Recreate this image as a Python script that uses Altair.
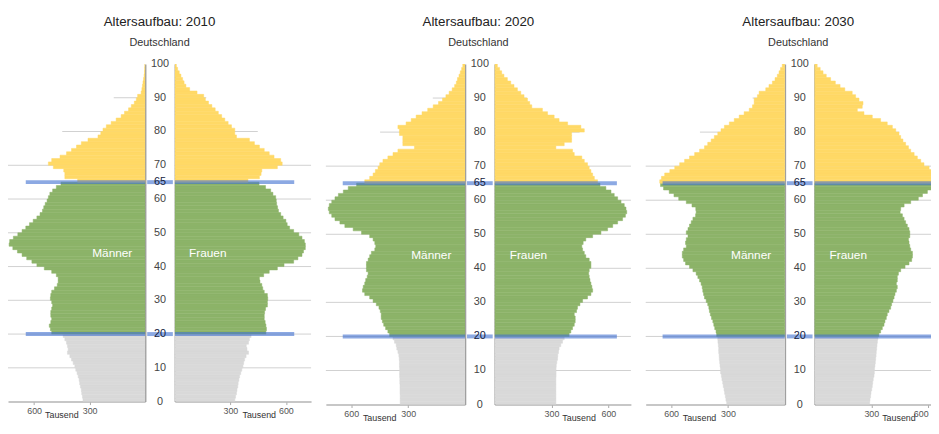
import altair as alt
import pandas as pd

FONT = "Liberation Sans"

ages = list(range(100))

m2010 = [336, 339, 343, 345, 350, 354, 357, 362, 368, 375,
         380, 389, 398, 407, 420, 416, 420, 425, 434, 443,
         505, 512, 518, 510, 505, 510, 510, 505, 500, 505,
         512, 510, 505, 490, 475, 470, 470, 480, 505, 545,
         585, 612, 640, 665, 690, 715, 735, 732, 712, 688,
         665, 645, 625, 605, 585, 568, 555, 548, 540, 530,
         523, 515, 500, 480, 455, 365, 434, 434, 440, 496,
         523, 505, 460, 425, 398, 371, 345, 309, 255, 240,
         228, 210, 184, 157, 130, 112, 90, 75, 59, 48,
         41, 22, 18, 15, 12, 9, 6, 4, 3, 2]
f2010 = [324, 328, 333, 336, 340, 342, 346, 350, 356, 362,
         368, 372, 377, 385, 398, 390, 386, 398, 403, 412,
         492, 495, 492, 488, 483, 483, 485, 490, 500, 500,
         502, 500, 483, 475, 470, 460, 457, 480, 510, 554,
         590, 642, 665, 687, 695, 705, 705, 700, 687, 670,
         642, 620, 607, 600, 585, 572, 560, 555, 550, 548,
         545, 530, 518, 490, 455, 395, 457, 466, 470, 554,
         580, 572, 536, 510, 483, 457, 430, 403, 333, 324,
         324, 306, 288, 270, 253, 235, 218, 200, 182, 165,
         156, 120, 80, 60, 50, 42, 33, 24, 15, 8]
m2020 = [342, 342, 342, 343, 343, 343, 344, 344, 345, 345,
         345, 346, 346, 347, 349, 354, 360, 363, 372, 380,
         398, 407, 419, 429, 436, 442, 442, 447, 454, 468,
         485, 503, 529, 541, 537, 529, 524, 516, 511, 520,
         520, 520, 511, 503, 494, 476, 471, 476, 485, 503,
         546, 590, 634, 660, 686, 703, 716, 721, 716, 703,
         686, 668, 642, 616, 572, 529, 503, 485, 473, 459,
         450, 433, 407, 380, 354, 267, 328, 328, 328, 346,
         346, 354, 311, 284, 258, 227, 197, 168, 140, 119,
         101, 84, 68, 55, 46, 40, 32, 25, 18, 12]
f2020 = [323, 323, 323, 323, 323, 323, 323, 323, 324, 324,
         324, 325, 328, 332, 333, 337, 340, 349, 358, 367,
         393, 402, 411, 420, 425, 425, 420, 432, 437, 450,
         464, 490, 508, 517, 513, 508, 503, 499, 496, 499,
         508, 508, 499, 481, 473, 464, 460, 467, 481, 517,
         561, 596, 623, 649, 675, 690, 697, 693, 684, 667,
         649, 631, 614, 587, 556, 543, 526, 517, 508, 499,
         490, 473, 460, 420, 411, 323, 367, 406, 406, 406,
         473, 455, 385, 340, 314, 279, 252, 196, 185, 173,
         155, 138, 120, 102, 85, 67, 49, 37, 26, 14]
m2030 = [307, 311, 314, 318, 321, 325, 328, 332, 335, 339,
         340, 342, 344, 346, 347, 349, 349, 351, 353, 354,
         360, 363, 370, 375, 380, 387, 393, 398, 401, 407,
         415, 424, 429, 433, 436, 442, 450, 459, 468, 485,
         503, 524, 534, 541, 541, 534, 520, 524, 520, 511,
         520, 511, 503, 494, 485, 471, 468, 470, 490, 520,
         560, 585, 610, 640, 656, 660, 651, 634, 607, 581,
         555, 529, 503, 476, 450, 424, 407, 389, 372, 354,
         337, 319, 293, 267, 241, 215, 188, 171, 162, 162,
         145, 136, 101, 84, 66, 52, 40, 31, 23, 14]
f2030 = [291, 293, 296, 298, 302, 305, 307, 310, 314, 316,
         317, 319, 321, 323, 325, 326, 328, 330, 332, 335,
         340, 349, 358, 367, 372, 379, 384, 393, 402, 407,
         414, 420, 425, 432, 437, 432, 437, 437, 443, 455,
         478, 499, 513, 517, 517, 508, 503, 499, 496, 503,
         503, 499, 490, 481, 473, 464, 452, 455, 473, 508,
         548, 570, 596, 623, 649, 676, 667, 644, 623, 605,
         578, 561, 543, 526, 508, 496, 481, 467, 455, 446,
         429, 411, 384, 349, 305, 261, 226, 252, 256, 235,
         217, 199, 160, 135, 110, 85, 62, 45, 30, 14]

years = ["2010", "2020", "2030"]
men = {"2010": m2010, "2020": m2020, "2030": m2030}
women = {"2010": f2010, "2020": f2020, "2030": f2030}

grid_ages = [10, 20, 30, 40, 50, 60, 70, 80, 90]
grid_lens = [800, 800, 800, 800, 800, 800, 800, 448, 170]
marker_ages = [20, 65]
marker_len = 645
axis_ages = [0, 10, 20, 30, 40, 50, 60, 65, 70, 80, 90, 100]
x_ticks = [300, 600]
sex_labels = {"m": "Männer", "f": "Frauen"}
label_age = 44
label_pos = 178

GRAY = "#d9d9d9"
GREEN = "#8cb369"
YELLOW = "#ffd966"
BLUE = "#3f6fd0"


def grp(a):
    if a < 20:
        return "jung"
    if a < 65:
        return "mittel"
    return "alt"


grid_df = pd.DataFrame({"age": grid_ages, "x0": 0, "len": grid_lens})
marker_df = pd.DataFrame({"age": marker_ages, "x0": 0, "len": marker_len})
top_df = pd.DataFrame({"age": [100], "x0": [0], "t": ["100"]})
grp_scale = alt.Scale(domain=["jung", "mittel", "alt"], range=[GRAY, GREEN, YELLOW])


def half(values, side, width, height, xmax, flush_last=False):
    df = pd.DataFrame({"age": ages, "v": values, "grp": [grp(a) for a in ages]})
    left = side == "m"
    xs = alt.Scale(domain=[0, xmax], reverse=left, nice=False, zero=False)
    ys = alt.Scale(domain=[0, 100], nice=False, zero=False)
    label_align = "center"
    if flush_last:
        label_align = {"condition": {"test": "datum.value >= 600", "value": "right"},
                       "value": "center"}
    xaxis = alt.Axis(values=x_ticks, title="Tausend", titleX=54 if left else 85, titleY=13,
                     titleBaseline="middle", titleAlign="center", titleFont=FONT, titleFontSize=9,
                     titleFontWeight="normal", titleColor="#333", labelFont=FONT, labelFontSize=9,
                     labelColor="#555", labelPadding=2, labelAlign=label_align, tickSize=3,
                     tickColor="#aaa", domainColor="#b5b5b5", domainWidth=1.5, grid=False)
    yaxis = alt.Axis(orient="right" if left else "left", values=list(range(0, 101, 10)),
                     labels=False, ticks=False, domainColor="#a0a0a0",
                     domainWidth=1.5, grid=False, title=None)

    def X(f):
        return alt.X(f + ":Q", scale=xs, axis=xaxis)

    Y = alt.Y("age:Q", scale=ys, axis=yaxis)
    grid = alt.Chart(grid_df).mark_rule(color="#d0d0d0", strokeWidth=1, clip=True).encode(
        x=X("x0"), x2="len:Q", y=Y)
    bars = alt.Chart(df).transform_calculate(age1="datum.age + 1").mark_rect(
        clip=True, strokeWidth=0.5).encode(
        x=X("v"), x2=alt.datum(0), y=Y, y2="age1:Q",
        color=alt.Color("grp:N", scale=grp_scale, legend=None),
        stroke=alt.Stroke("grp:N", scale=grp_scale, legend=None))
    lines = alt.Chart(marker_df).mark_rule(color=BLUE, strokeWidth=4, opacity=0.6, clip=True).encode(
        x=X("x0"), x2="len:Q", y=Y)
    tdf = pd.DataFrame({"age": [label_age], "v": [label_pos], "t": [sex_labels[side]]})
    text = alt.Chart(tdf).mark_text(font=FONT, fontSize=12, color="white").encode(
        x=X("v"), y=Y, text="t:N")
    # invisible copy of the top age label so every column has the same top extent
    ghost = alt.Chart(top_df).mark_text(font=FONT, fontSize=11, baseline="middle", opacity=0,
                                        align="right" if left else "left").encode(
        x=X("x0"), y=Y, text="t:N")
    return alt.layer(grid, bars, lines, text, ghost).properties(width=width, height=height)


def mid(height):
    ms = alt.Scale(domain=[0, 1], nice=False, zero=False)
    ys = alt.Scale(domain=[0, 100], nice=False, zero=False)
    mdf = pd.DataFrame({"age": marker_ages, "a": 0, "b": 1})
    line = alt.Chart(mdf).mark_rule(color=BLUE, strokeWidth=4, opacity=0.6).encode(
        x=alt.X("a:Q", scale=ms, axis=None), x2="b:Q",
        y=alt.Y("age:Q", scale=ys, axis=None))
    ldf = pd.DataFrame({"age": axis_ages, "c": 0.5,
                        "hl": ["h" if a in marker_ages else "n" for a in axis_ages]})
    text = alt.Chart(ldf).mark_text(font=FONT, fontSize=11, baseline="middle").encode(
        x=alt.X("c:Q", scale=ms, axis=None), y=alt.Y("age:Q", scale=ys, axis=None),
        text="age:Q",
        color=alt.condition("datum.hl == 'h'", alt.value("#14213d"), alt.value("#444444")))
    return alt.layer(line, text).properties(width=26, height=height)


def panel(year, wl, wr, h, xl, xr, dx, flush_last=False):
    return alt.hconcat(
        half(men[year], "m", wl, h, xl), mid(h),
        half(women[year], "f", wr, h, xr, flush_last),
        spacing=0
    ).properties(title=alt.TitleParams(
        text="Altersaufbau: " + year, subtitle="Deutschland", font=FONT, fontSize=13.5,
        fontWeight="normal", color="#222", subtitleFont=FONT, subtitleFontSize=11,
        subtitleColor="#333", subtitlePadding=9, anchor="middle", offset=10, dx=dx))


p1 = panel("2010", 139, 138, 342, 741, 736, 0)
p2 = panel("2020", 141, 138, 345, 734, 719, 0)
p3 = panel("2030", 141, 118, 345, 734, 615, 10, flush_last=True)

chart = alt.hconcat(p1, p2, p3, spacing=15).configure(
    padding={"left": 0, "top": 4, "right": 0, "bottom": 0}, font=FONT
).configure_view(stroke=None)

chart.save("out.html", embed_options={"renderer": "svg", "actions": False})
